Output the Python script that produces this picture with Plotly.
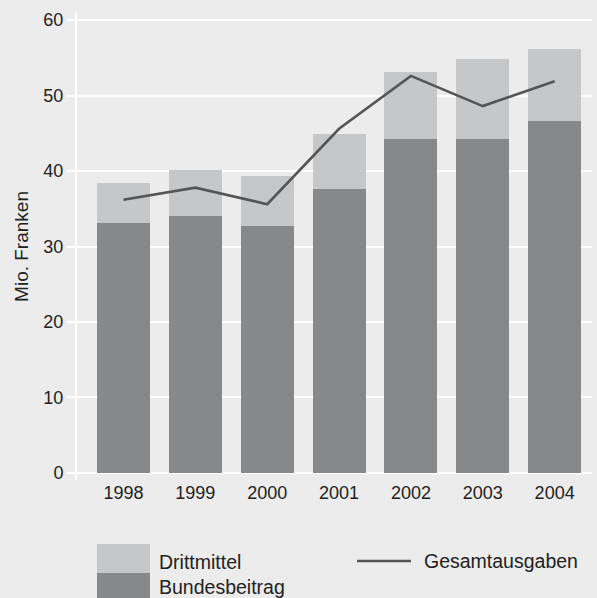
import plotly.graph_objects as go

years = ["1998", "1999", "2000", "2001", "2002", "2003", "2004"]
bundesbeitrag = [33.1, 34.0, 32.7, 37.6, 44.2, 44.2, 46.6]
drittmittel = [5.3, 6.1, 6.6, 7.3, 8.9, 10.6, 9.6]
gesamtausgaben = [36.2, 37.8, 35.6, 45.6, 52.6, 48.6, 51.9]

BG = "#ececec"
DARK = "#87888a"
LIGHT = "#c6c7c9"
LINE = "#555555"
TXT = "#222222"
FONT = "Liberation Sans"

fig = go.Figure()
fig.add_trace(go.Bar(x=years, y=bundesbeitrag, name="Bundesbeitrag",
                     marker=dict(color=DARK, line=dict(width=0))))
fig.add_trace(go.Bar(x=years, y=drittmittel, name="Drittmittel",
                     marker=dict(color=LIGHT, line=dict(width=0))))
fig.add_trace(go.Scatter(x=years, y=gesamtausgaben, name="Gesamtausgaben",
                         mode="lines", line=dict(color=LINE, width=2.6)))

# legend drawn by hand (big square swatches like the original)
shapes = [
    dict(type="rect", xref="paper", yref="paper", x0=0.0388, x1=0.1417,
         y0=-0.199, y1=-0.137, fillcolor=LIGHT, line=dict(width=0)),
    dict(type="rect", xref="paper", yref="paper", x0=0.0388, x1=0.1417,
         y0=-0.26, y1=-0.199, fillcolor=DARK, line=dict(width=0)),
    dict(type="line", xref="paper", yref="paper", x0=0.5437, x1=0.6485,
         y0=-0.1734, y1=-0.1734, line=dict(color=LINE, width=2.6)),
]
annotations = [
    dict(text="Drittmittel", xref="paper", yref="paper", x=0.1553, y=-0.1756,
         xanchor="left", yanchor="middle", showarrow=False),
    dict(text="Bundesbeitrag", xref="paper", yref="paper", x=0.1553, y=-0.229,
         xanchor="left", yanchor="middle", showarrow=False),
    dict(text="Gesamtausgaben", xref="paper", yref="paper", x=0.670, y=-0.1734,
         xanchor="left", yanchor="middle", showarrow=False),
]

fig.update_layout(
    width=597, height=598,
    barmode="stack", bargap=0.262,
    showlegend=False,
    paper_bgcolor=BG, plot_bgcolor=BG,
    font=dict(family=FONT, size=19.5, color=TXT),
    margin=dict(l=77, r=5, t=13, b=118),
    shapes=shapes, annotations=annotations,
    xaxis=dict(type="category", range=[-0.647, 6.52], showgrid=False,
               showline=False, zeroline=False, ticks="",
               tickfont=dict(size=18)),
    yaxis=dict(range=[-0.93, 60.93], tickvals=[0, 10, 20, 30, 40, 50, 60],
               showgrid=True, gridcolor="white", gridwidth=2,
               showline=True, linecolor="white", linewidth=2,
               zeroline=False, ticks="outside", ticklen=8, tickcolor="white",
               tickwidth=2, tickfont=dict(size=18),
               title=dict(text="Mio. Franken", font=dict(size=19), standoff=10),
               automargin=False),
)

fig.write_html("out.html", config={"displayModeBar": False},
               post_script="document.body.style.margin='0';"
               "document.body.style.background='#ececec';")
